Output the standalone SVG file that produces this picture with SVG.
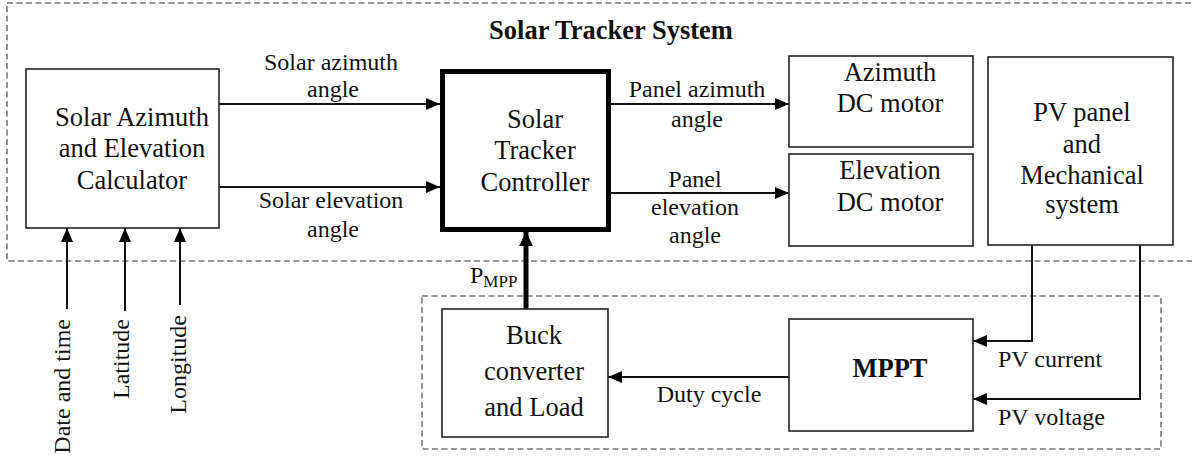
<svg xmlns="http://www.w3.org/2000/svg" width="1192" height="461" viewBox="0 0 1192 461">
  <style>
    .box { fill: #fff; stroke: #222; stroke-width: 1.6; }
    .thick { fill: #fff; stroke: #000; stroke-width: 5; }
    .dash { fill: none; stroke: #777; stroke-width: 1.6; stroke-dasharray: 6 3.5; }
    .line { fill: none; stroke: #111; stroke-width: 2; }
    .tx { font-family: "Liberation Serif", "Times New Roman", serif; fill: #111; }
    .big { font-size: 26.5px; text-anchor: middle; }
    .lab { font-size: 24px; text-anchor: middle; }
    .labl { font-size: 24px; }
    .b { font-weight: bold; }
  </style>
  <defs>
    <marker id="arr" viewBox="0 0 14 12" refX="14" refY="6" markerWidth="14" markerHeight="12" markerUnits="userSpaceOnUse" orient="auto">
      <path d="M0,0 L14,6 L0,12 Z" fill="#000"/>
    </marker>
    <marker id="arrBig" viewBox="0 0 14 14" refX="14" refY="7" markerWidth="14" markerHeight="14" markerUnits="userSpaceOnUse" orient="auto">
      <path d="M0,0 L14,7 L0,14 Z" fill="#000"/>
    </marker>
  </defs>

  <rect width="1192" height="461" fill="#fff"/>

  <!-- dashed system boundaries -->
  <g id="boundaries">
    <rect class="dash" x="7" y="3" width="1200" height="258"/>
    <rect class="dash" x="422" y="296" width="739" height="153"/>
    <text class="tx b" x="611" y="39" font-size="26.5" text-anchor="middle">Solar Tracker System</text>
  </g>

  <!-- connectors -->
  <g id="connectors">
    <line class="line" x1="219" y1="104" x2="440" y2="104" marker-end="url(#arr)"/>
    <line class="line" x1="219" y1="187" x2="440" y2="187" marker-end="url(#arr)"/>
    <line class="line" x1="611" y1="104" x2="789" y2="104" marker-end="url(#arr)"/>
    <line class="line" x1="611" y1="193" x2="789" y2="193" marker-end="url(#arr)"/>
    <line class="line" x1="67" y1="309" x2="67" y2="228" marker-end="url(#arr)"/>
    <line class="line" x1="125" y1="311" x2="125" y2="228" marker-end="url(#arr)"/>
    <line class="line" x1="180" y1="305" x2="180" y2="228" marker-end="url(#arr)"/>
    <line x1="526" y1="309" x2="526" y2="232" stroke="#000" stroke-width="5" marker-end="url(#arrBig)"/>
    <line class="line" x1="789" y1="377" x2="608" y2="377" marker-end="url(#arr)"/>
    <polyline class="line" points="1032,245 1032,341 973,341" marker-end="url(#arr)"/>
    <polyline class="line" points="1140,245 1140,399 973,399" marker-end="url(#arr)"/>

    <text class="tx lab" x="331" y="70">Solar azimuth</text>
    <text class="tx lab" x="333" y="97">angle</text>
    <text class="tx lab" x="331" y="208">Solar elevation</text>
    <text class="tx lab" x="333" y="237">angle</text>
    <text class="tx lab" x="697" y="97">Panel azimuth</text>
    <text class="tx lab" x="697" y="127">angle</text>
    <text class="tx lab" x="695" y="187">Panel</text>
    <text class="tx lab" x="695" y="215">elevation</text>
    <text class="tx lab" x="695" y="243">angle</text>
    <text class="tx lab" x="709" y="402">Duty cycle</text>
    <text class="tx labl" x="998" y="367">PV current</text>
    <text class="tx labl" x="998" y="425">PV voltage</text>
    <text class="tx labl" x="470" y="283">P<tspan font-size="17" dy="4">MPP</tspan></text>
    <text class="tx labl" text-anchor="end" transform="translate(70,319) rotate(-90)">Date and time</text>
    <text class="tx labl" text-anchor="end" transform="translate(129,319) rotate(-90)">Latitude</text>
    <text class="tx labl" text-anchor="end" transform="translate(186,315) rotate(-90)">Longitude</text>
  </g>

  <g id="calculator">
    <rect class="box" x="26" y="69" width="193" height="159"/>
    <text class="tx big" x="132" y="126">Solar Azimuth</text>
    <text class="tx big" x="132" y="157">and Elevation</text>
    <text class="tx big" x="132" y="189">Calculator</text>
  </g>

  <g id="controller">
    <rect class="thick" x="442.5" y="71.5" width="166" height="158"/>
    <text class="tx big" x="535" y="128">Solar</text>
    <text class="tx big" x="535" y="159">Tracker</text>
    <text class="tx big" x="535" y="191">Controller</text>
  </g>

  <g id="azimuth-motor">
    <rect class="box" x="789" y="56" width="184" height="91"/>
    <text class="tx big" x="890" y="81">Azimuth</text>
    <text class="tx big" x="890" y="112">DC motor</text>
  </g>

  <g id="elevation-motor">
    <rect class="box" x="789" y="154" width="184" height="92"/>
    <text class="tx big" x="890" y="179">Elevation</text>
    <text class="tx big" x="890" y="211">DC motor</text>
  </g>

  <g id="pv-panel">
    <rect class="box" x="988" y="57" width="185" height="188"/>
    <text class="tx big" x="1082" y="121">PV panel</text>
    <text class="tx big" x="1082" y="153">and</text>
    <text class="tx big" x="1082" y="184">Mechanical</text>
    <text class="tx big" x="1082" y="213">system</text>
  </g>

  <g id="mppt">
    <rect class="box" x="789" y="319" width="184" height="112"/>
    <text class="tx big b" x="890" y="377">MPPT</text>
  </g>

  <g id="buck">
    <rect class="box" x="442" y="309" width="166" height="128"/>
    <text class="tx big" x="534" y="344">Buck</text>
    <text class="tx big" x="534" y="380">converter</text>
    <text class="tx big" x="534" y="416">and Load</text>
  </g>
</svg>
